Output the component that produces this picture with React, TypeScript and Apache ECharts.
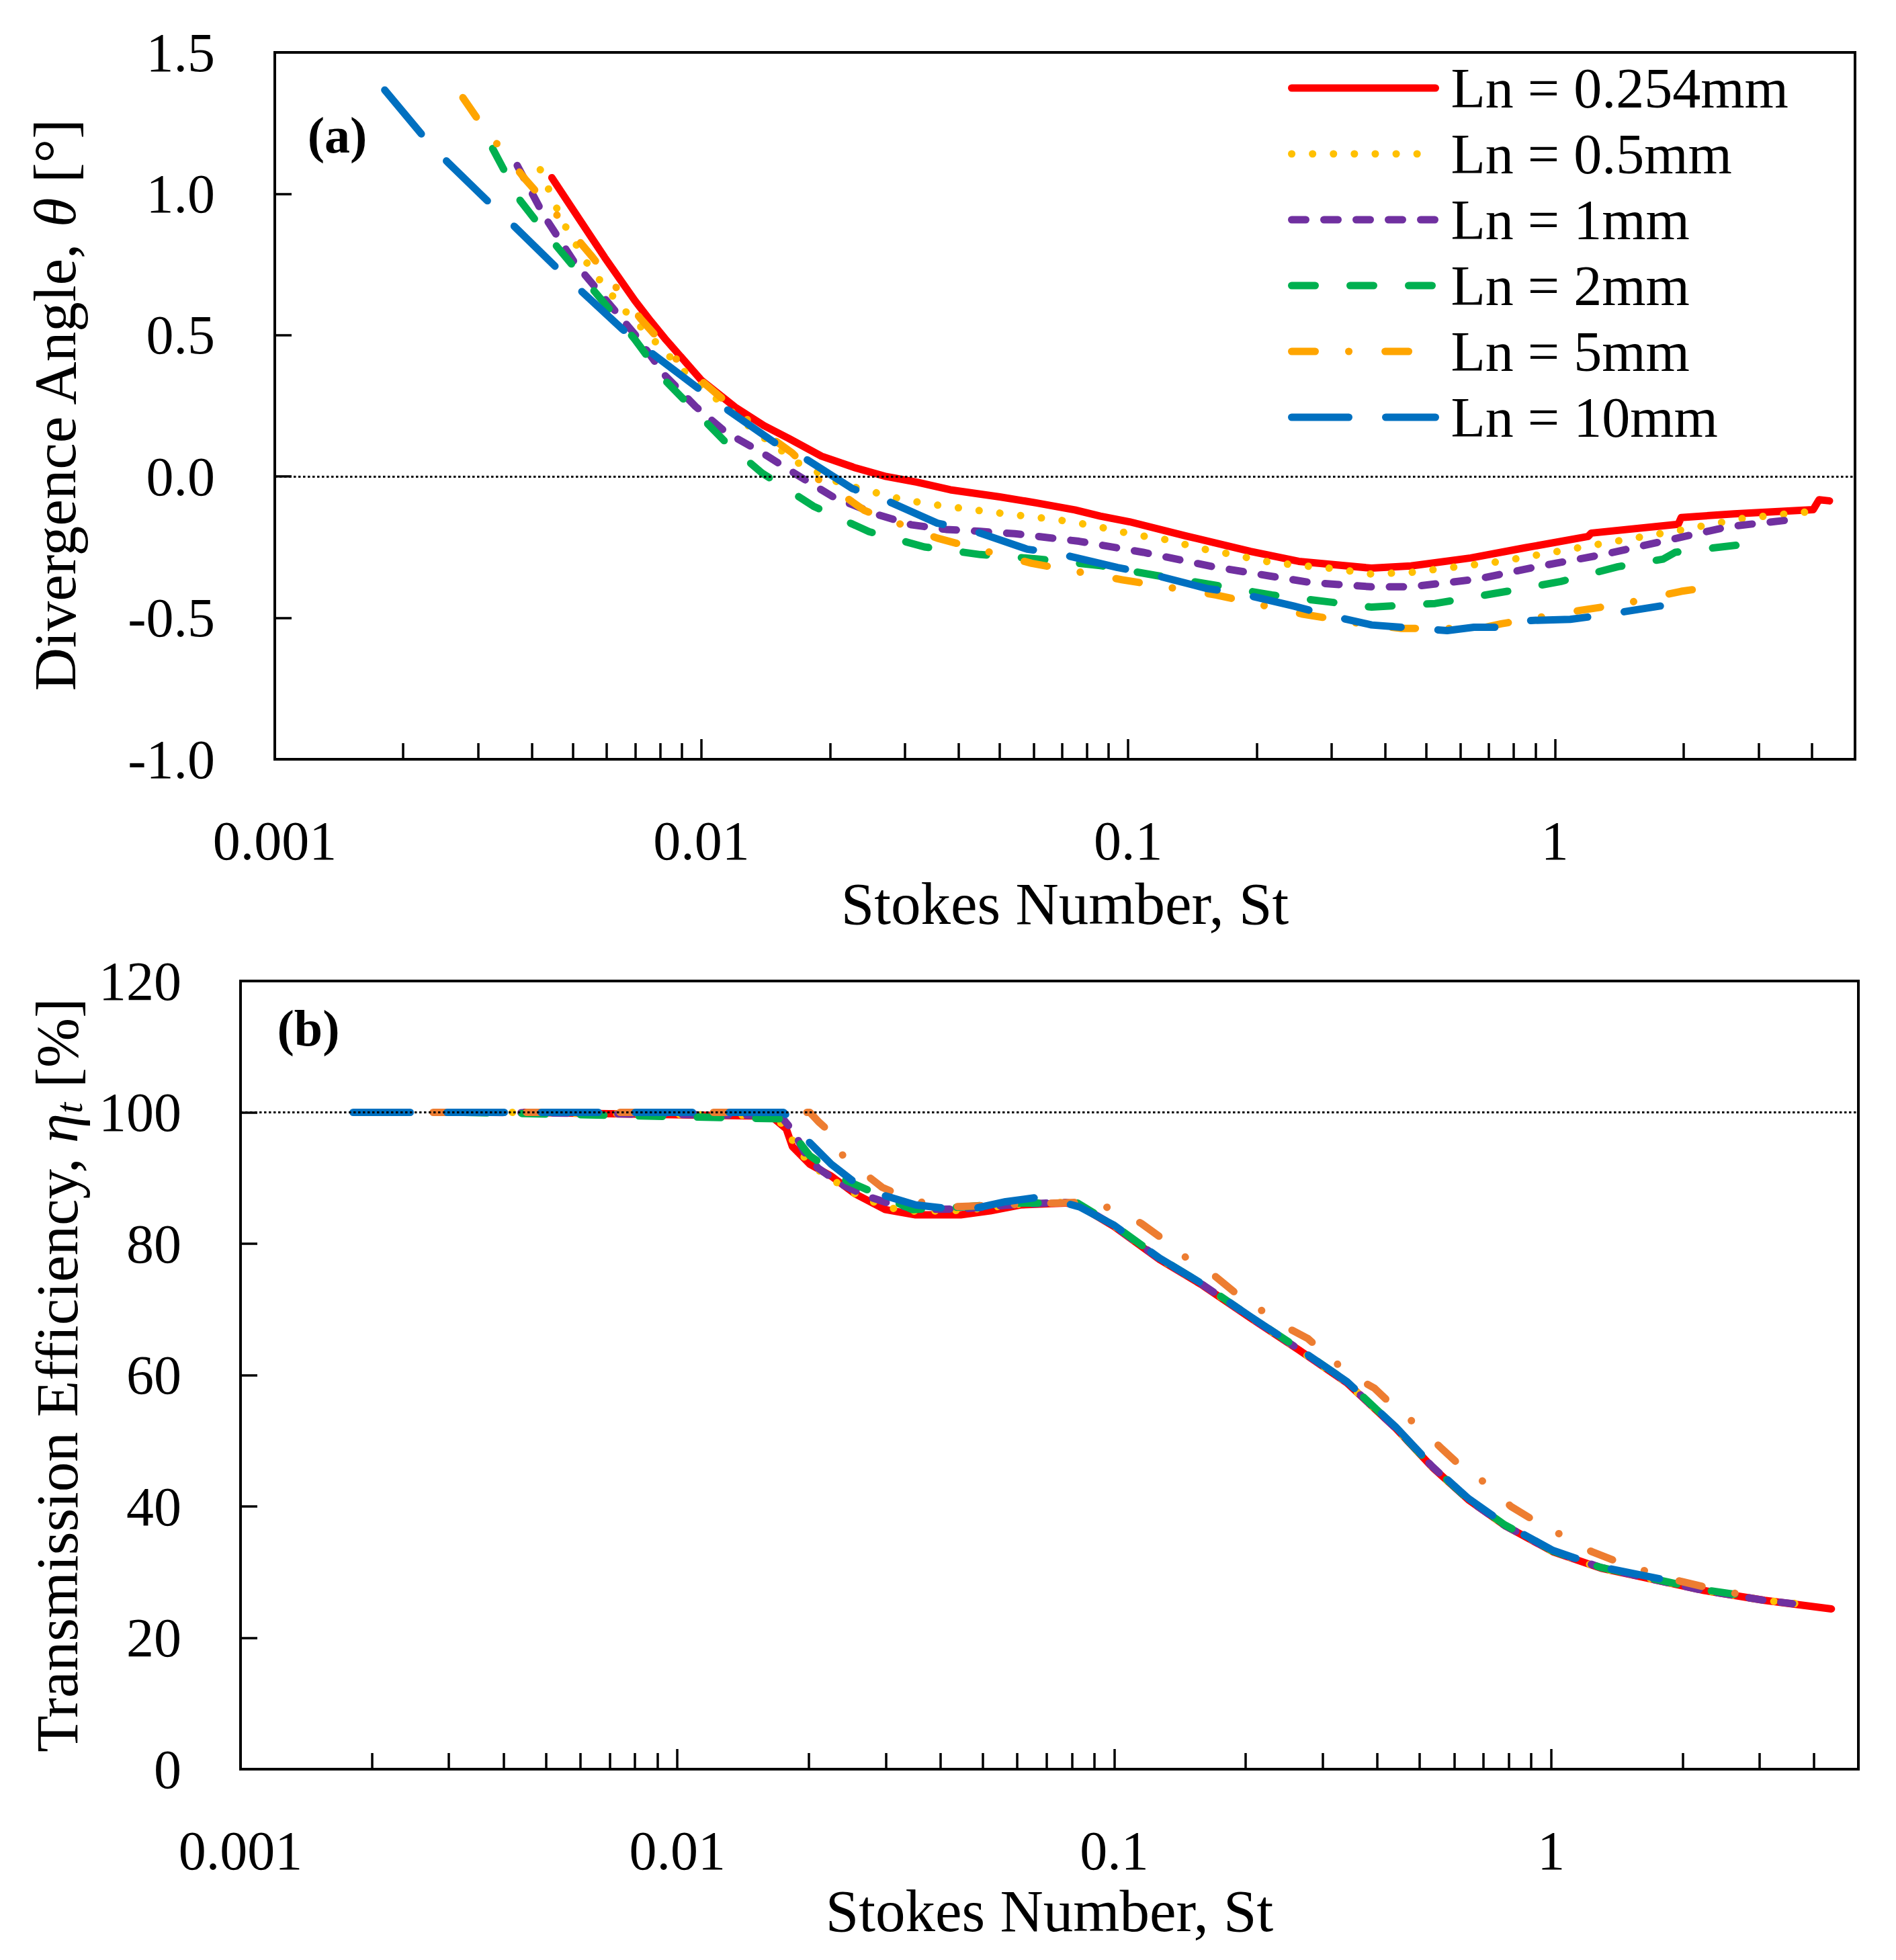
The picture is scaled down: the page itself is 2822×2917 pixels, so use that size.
import { useEffect, useRef } from "react";
import * as echarts from "echarts";

const FONT = "'Liberation Serif', 'Times New Roman', serif";

const NAMES = ["Ln = 0.254mm", "Ln = 0.5mm", "Ln = 1mm", "Ln = 2mm", "Ln = 5mm", "Ln = 10mm"];
const COLORS_A = ["#FF0000", "#FFC000", "#7030A0", "#00B050", "#FFA500", "#0070C0"];
const COLORS_B = ["#FF0000", "#FFC000", "#7030A0", "#00B050", "#ED7D31", "#0070C0"];
const DASHES: any[] = ["solid", [0.1, 31], [21, 27], [35, 52], [35, 50, 0.1, 54], [85, 55]];

// x axis (Stokes number), log scale
const X_MIN = 0.001;
const X_MAX = 5.05;
const X_MAJOR = [0.001, 0.01, 0.1, 1];
const X_LABELS = ["0.001", "0.01", "0.1", "1"];
const X_MINOR = [
  0.002, 0.003, 0.004, 0.005, 0.006, 0.007, 0.008, 0.009,
  0.02, 0.03, 0.04, 0.05, 0.06, 0.07, 0.08, 0.09,
  0.2, 0.3, 0.4, 0.5, 0.6, 0.7, 0.8, 0.9,
  2, 3, 4,
];

// (a) divergence angle
const A_ST_254 = [0.00446, 0.00521, 0.00593, 0.00698, 0.0076, 0.00822, 0.01, 0.012, 0.014, 0.016, 0.0191, 0.023, 0.0271, 0.032, 0.0383, 0.05, 0.0608, 0.075, 0.086, 0.1007, 0.1365, 0.1935, 0.251, 0.3715, 0.46, 0.635, 0.851, 1.196, 1.217, 1.945, 1.977, 2.63, 4.03, 4.16, 4.4];
const A_TH_254 = [1.057, 0.903, 0.775, 0.622, 0.55, 0.487, 0.34, 0.245, 0.18, 0.135, 0.072, 0.03, 0.0, -0.02, -0.047, -0.072, -0.093, -0.118, -0.14, -0.16, -0.21, -0.265, -0.3, -0.324, -0.316, -0.288, -0.252, -0.212, -0.2, -0.169, -0.145, -0.132, -0.117, -0.082, -0.086];

const A_ST_05 = [0.00419, 0.00472, 0.00547, 0.00654, 0.0077, 0.00906, 0.011, 0.01342, 0.01686, 0.0212, 0.0253, 0.0297, 0.0357, 0.043, 0.0517, 0.0608, 0.0731, 0.086, 0.1037, 0.1248, 0.146, 0.176, 0.207, 0.249, 0.3, 0.3715, 0.46, 0.748, 1.217, 1.98, 2.73, 3.9];
const A_TH_05 = [1.085, 0.903, 0.739, 0.594, 0.485, 0.375, 0.266, 0.157, 0.048, -0.025, -0.055, -0.082, -0.101, -0.117, -0.132, -0.144, -0.159, -0.179, -0.206, -0.225, -0.253, -0.276, -0.299, -0.314, -0.325, -0.345, -0.339, -0.3, -0.244, -0.189, -0.149, -0.125];

const A_ST_1 = [0.0037, 0.00428, 0.00504, 0.00593, 0.00698, 0.00822, 0.00968, 0.0114, 0.01387, 0.01686, 0.0205, 0.0259, 0.0311, 0.0374, 0.045, 0.0542, 0.0767, 0.1084, 0.157, 0.217, 0.268, 0.372, 0.46, 0.656, 0.908, 1.297, 1.853, 2.56, 3.57];
const A_TH_1 = [1.1, 0.921, 0.757, 0.63, 0.503, 0.357, 0.248, 0.157, 0.084, 0.003, -0.075, -0.135, -0.171, -0.187, -0.194, -0.202, -0.229, -0.268, -0.318, -0.353, -0.375, -0.39, -0.39, -0.363, -0.319, -0.276, -0.224, -0.177, -0.153];

const A_ST_2 = [0.00324, 0.00376, 0.00428, 0.00504, 0.00593, 0.00698, 0.00822, 0.00968, 0.0114, 0.01387, 0.0183, 0.0247, 0.0333, 0.045, 0.0608, 0.086, 0.1164, 0.1608, 0.217, 0.294, 0.372, 0.524, 0.773, 1.033, 1.406, 1.794, 1.914, 2.775];
const A_TH_2 = [1.16, 0.976, 0.867, 0.739, 0.612, 0.485, 0.34, 0.23, 0.121, 0.012, -0.105, -0.195, -0.249, -0.276, -0.291, -0.315, -0.35, -0.385, -0.419, -0.443, -0.462, -0.449, -0.406, -0.371, -0.319, -0.292, -0.268, -0.24];

const A_ST_5 = [0.00276, 0.00304, 0.00388, 0.00472, 0.00556, 0.00721, 0.00877, 0.011, 0.0134, 0.0163, 0.0192, 0.022, 0.0241, 0.0357, 0.0594, 0.0967, 0.1608, 0.255, 0.35, 0.437, 0.668, 0.748, 1.14, 1.45, 1.977, 2.34];
const A_TH_5 = [1.34, 1.248, 1.048, 0.903, 0.775, 0.557, 0.412, 0.285, 0.176, 0.084, -0.024, -0.078, -0.12, -0.218, -0.307, -0.365, -0.419, -0.486, -0.52, -0.537, -0.537, -0.521, -0.474, -0.45, -0.406, -0.39];

const A_ST_10 = [0.00181, 0.00223, 0.00254, 0.00319, 0.00364, 0.00457, 0.00521, 0.00654, 0.00745, 0.01, 0.0114, 0.0148, 0.0174, 0.0226, 0.0265, 0.0357, 0.043, 0.058, 0.0684, 0.0944, 0.111, 0.153, 0.181, 0.244, 0.294, 0.372, 0.475, 0.559, 0.646, 0.785, 0.879, 1.086, 1.297, 1.766];
const A_TH_10 = [1.367, 1.203, 1.112, 0.967, 0.885, 0.739, 0.658, 0.52, 0.449, 0.303, 0.24, 0.121, 0.066, -0.043, -0.078, -0.165, -0.19, -0.257, -0.272, -0.322, -0.342, -0.396, -0.412, -0.458, -0.49, -0.525, -0.537, -0.545, -0.533, -0.533, -0.509, -0.505, -0.49, -0.458];

// (b) transmission efficiency
const B_ST_254 = [0.00446, 0.0164, 0.01775, 0.01833, 0.0201, 0.0225, 0.0255, 0.0299, 0.0351, 0.0445, 0.052, 0.061, 0.0773, 0.0826, 0.1, 0.127, 0.159, 0.205, 0.265, 0.341, 0.441, 0.534, 0.647, 0.783, 1.01, 1.3, 1.63, 2.24, 3.08, 4.38];
const B_EF_254 = [100, 99.4, 97.5, 94.8, 92.1, 90.3, 87.6, 85.2, 84.4, 84.4, 85.0, 85.9, 86.2, 85.9, 82.6, 77.6, 73.7, 68.7, 63.8, 58.8, 51.9, 46.0, 41.0, 37.1, 33.1, 30.6, 29.2, 27.2, 25.7, 24.4];

const B_ST_05 = [0.00419, 0.0166, 0.0179, 0.0187, 0.0204, 0.0228, 0.0258, 0.0302, 0.0355, 0.045, 0.053, 0.062, 0.0773, 0.0826, 0.1, 0.127, 0.159, 0.205, 0.265, 0.341, 0.441, 0.534, 0.647, 0.783, 1.01, 1.3, 1.63, 2.24, 3.08, 3.9];
const B_EF_05 = [100, 99.5, 97.3, 94.5, 91.8, 89.6, 87.4, 85.5, 84.9, 85.1, 85.6, 86.1, 86.3, 85.9, 82.7, 77.7, 73.8, 68.8, 63.8, 58.8, 51.9, 46.0, 41.0, 37.1, 33.1, 30.6, 29.2, 27.2, 25.7, 25.0];

const B_ST_1 = [0.0037, 0.0172, 0.0185, 0.0195, 0.021, 0.0235, 0.027, 0.031, 0.036, 0.045, 0.06, 0.0773, 0.0826, 0.1, 0.127, 0.159, 0.205, 0.265, 0.341, 0.441, 0.534, 0.647, 0.783, 1.01, 1.3, 1.63, 2.24, 3.08, 3.57];
const B_EF_1 = [100, 99.5, 97.0, 94.0, 91.5, 89.2, 87.3, 86.0, 85.2, 85.3, 86.0, 86.3, 86.0, 82.7, 77.7, 73.8, 68.8, 63.9, 58.9, 51.9, 46.1, 41.0, 37.1, 33.2, 30.7, 29.2, 27.2, 25.7, 25.2];

const B_ST_2 = [0.00324, 0.0176, 0.0192, 0.0201, 0.0244, 0.0319, 0.0345, 0.045, 0.058, 0.0824, 0.1, 0.127, 0.159, 0.205, 0.265, 0.341, 0.441, 0.534, 0.647, 0.783, 1.01, 1.3, 1.63, 2.24, 2.78];
const B_EF_2 = [100, 99.0, 95.1, 93.4, 89.6, 86.2, 85.2, 85.6, 86.2, 86.2, 82.8, 77.8, 73.9, 68.9, 64.0, 59.0, 52.0, 46.1, 41.1, 37.2, 33.2, 30.7, 29.3, 27.3, 26.4];

const B_ST_5 = [0.00276, 0.0201, 0.0211, 0.0221, 0.0238, 0.0268, 0.0294, 0.0345, 0.041, 0.068, 0.089, 0.105, 0.1153, 0.133, 0.154, 0.169, 0.192, 0.219, 0.241, 0.277, 0.31, 0.341, 0.394, 0.441, 0.493, 0.56, 0.636, 0.711, 0.809, 0.933, 1.06, 1.24, 1.48, 1.66, 1.98, 2.36, 2.67];
const B_EF_5 = [100, 100, 98.5, 97.3, 93.6, 90.7, 88.6, 86.6, 85.6, 86.1, 86.4, 84.6, 83.1, 80.1, 76.6, 75.2, 72.2, 69.7, 67.7, 65.6, 62.8, 60.4, 58.0, 54.9, 52.4, 48.9, 45.5, 43.5, 40.0, 37.5, 35.6, 33.1, 31.1, 30.1, 28.6, 27.4, 26.7];

const B_ST_10 = [0.00181, 0.0175, 0.0186, 0.0198, 0.0225, 0.0255, 0.0299, 0.0351, 0.041, 0.0481, 0.0564, 0.0659, 0.0773, 0.0833, 0.1, 0.127, 0.159, 0.205, 0.265, 0.341, 0.441, 0.534, 0.647, 0.783, 1.01, 1.3, 1.77];
const B_EF_10 = [100, 100, 98.3, 95.8, 92.1, 89.3, 87.3, 85.9, 85.4, 85.4, 86.4, 87.0, 86.2, 85.6, 82.8, 77.8, 73.9, 68.9, 64.0, 59.0, 52.1, 46.2, 41.2, 37.3, 33.3, 30.8, 29.0];

const A_SETS = [[A_ST_254, A_TH_254], [A_ST_05, A_TH_05], [A_ST_1, A_TH_1], [A_ST_2, A_TH_2], [A_ST_5, A_TH_5], [A_ST_10, A_TH_10]];
const B_SETS = [[B_ST_254, B_EF_254], [B_ST_05, B_EF_05], [B_ST_1, B_EF_1], [B_ST_2, B_EF_2], [B_ST_5, B_EF_5], [B_ST_10, B_EF_10]];

// the x axes are value axes over log10(St)
const lg = (v: number) => Math.log10(v);
const pts = (st: number[], y: number[]) => st.map((s, i) => [lg(s), y[i]]);

const labelStyle = { color: "#000", fontFamily: FONT, fontSize: 82 };
const nameStyle = { color: "#000", fontFamily: FONT, fontSize: 89 };
const frameLine = { show: true, onZero: false, lineStyle: { color: "#000", width: 4 } };

function xAxes(gridIndex: number, nameGap: number) {
  return [
    {
      type: "value",
      gridIndex,
      position: "bottom",
      min: lg(X_MIN),
      max: lg(X_MAX),
      name: "Stokes Number, St",
      nameLocation: "middle",
      nameGap,
      nameTextStyle: nameStyle,
      splitLine: { show: false },
      axisLine: frameLine,
      axisTick: {
        show: true,
        inside: true,
        length: 30,
        lineStyle: { color: "#000", width: 3.5 },
        customValues: X_MAJOR.map(lg),
      },
      axisLabel: {
        ...labelStyle,
        margin: 80,
        customValues: X_MAJOR.map(lg),
        formatter: (v: number) => X_LABELS[Math.round(v) + 3] ?? "",
      },
    },
    {
      type: "value",
      gridIndex,
      position: "bottom",
      min: lg(X_MIN),
      max: lg(X_MAX),
      splitLine: { show: false },
      axisLine: { show: false, onZero: false },
      axisLabel: { show: false },
      axisTick: {
        show: true,
        inside: true,
        length: 24,
        lineStyle: { color: "#000", width: 3.5 },
        customValues: X_MINOR.map(lg),
      },
    },
  ];
}

function makeSeries(sets: number[][][], colors: string[], axis: number, refY: number) {
  return sets.map(([st, y], i) => ({
    name: NAMES[i],
    type: "line",
    xAxisIndex: axis * 2,
    yAxisIndex: axis,
    data: pts(st, y),
    showSymbol: false,
    symbol: "none",
    lineStyle: { color: colors[i], width: 11, type: DASHES[i], cap: "round", join: "round" },
    itemStyle: { color: colors[i] },
    markLine:
      i === 0
        ? {
            silent: true,
            symbol: ["none", "none"],
            label: { show: false },
            lineStyle: { color: "#000", type: [3.5, 3.5], width: 3 },
            data: [{ yAxis: refY }],
          }
        : undefined,
  }));
}

export default function App() {
  const ref = useRef<HTMLDivElement>(null);

  useEffect(() => {
    if (!ref.current) return;
    const chart = echarts.init(ref.current, null, { renderer: "svg" });
    chart.setOption({
      animation: false,
      backgroundColor: "#fff",
      grid: [
        { left: 409, top: 78, width: 2352, height: 1052, show: true, borderColor: "#000", borderWidth: 4 },
        { left: 358, top: 1460, width: 2408, height: 1173, show: true, borderColor: "#000", borderWidth: 4 },
      ],
      xAxis: [...xAxes(0, 170), ...xAxes(1, 166)],
      yAxis: [
        {
          type: "value",
          gridIndex: 0,
          min: -1,
          max: 1.5,
          interval: 0.5,
          name: "Divergence Angle, {i|θ} [°]",
          nameLocation: "middle",
          nameRotate: 90,
          nameGap: 283,
          nameTextStyle: { ...nameStyle, rich: { i: { ...nameStyle, fontStyle: "italic" } } },
          splitLine: { show: false },
          axisLine: frameLine,
          axisTick: { show: true, inside: true, length: 25, lineStyle: { color: "#000", width: 3.5 } },
          axisLabel: { ...labelStyle, margin: 89, formatter: (v: number) => v.toFixed(1) },
        },
        {
          type: "value",
          gridIndex: 1,
          min: 0,
          max: 120,
          interval: 20,
          name: "Transmission Efficiency, {i|η}{sub|t} [%]",
          nameLocation: "middle",
          nameRotate: 90,
          nameGap: 227,
          nameTextStyle: {
            ...nameStyle,
            lineHeight: 92,
            rich: {
              i: { ...nameStyle, fontStyle: "italic", lineHeight: 92 },
              sub: { ...nameStyle, fontSize: 58, fontStyle: "italic", lineHeight: 44, verticalAlign: "bottom" },
            },
          },
          splitLine: { show: false },
          axisLine: frameLine,
          axisTick: { show: true, inside: true, length: 25, lineStyle: { color: "#000", width: 3.5 } },
          axisLabel: { ...labelStyle, margin: 88 },
        },
      ],
      legend: {
        data: NAMES,
        orient: "vertical",
        left: 1917,
        top: 89,
        padding: 0,
        itemWidth: 214,
        itemHeight: 10,
        itemGap: 14,
        lineStyle: { width: 11 },
        itemStyle: { opacity: 0 },
        textStyle: { color: "#000", fontFamily: FONT, fontSize: 84, lineHeight: 84, padding: [0, 0, 0, 18] },
      },
      graphic: [
        {
          type: "text",
          x: 502,
          y: 201,
          style: { text: "(a)", font: `bold 76px ${FONT}`, fill: "#000", textAlign: "center", textVerticalAlign: "middle" },
        },
        {
          type: "text",
          x: 459,
          y: 1530,
          style: { text: "(b)", font: `bold 76px ${FONT}`, fill: "#000", textAlign: "center", textVerticalAlign: "middle" },
        },
      ],
      series: [...makeSeries(A_SETS, COLORS_A, 0, 0), ...makeSeries(B_SETS, COLORS_B, 1, 100)],
    });
    return () => chart.dispose();
  }, []);

  return (
    <div
      ref={ref}
      style={{ position: "absolute", left: 0, top: 0, width: 2822, height: 2917, background: "#fff" }}
    />
  );
}
